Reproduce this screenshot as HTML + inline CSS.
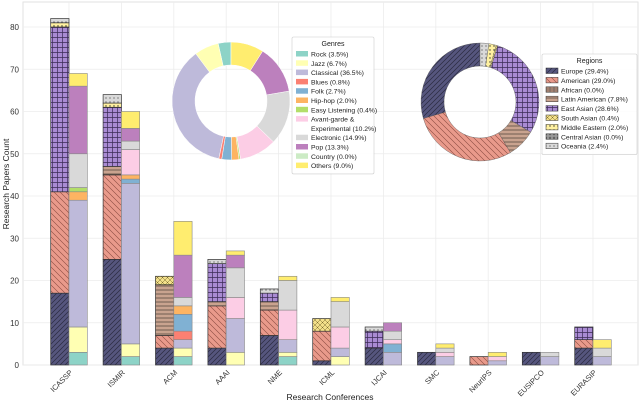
<!DOCTYPE html>
<html><head><meta charset="utf-8"><style>
html,body{margin:0;padding:0;background:#fff;}
svg{display:block;font-family:"Liberation Sans","DejaVu Sans",sans-serif;}
</style></head><body>
<svg id="chart" width="640" height="404" viewBox="0 0 640 404" xmlns="http://www.w3.org/2000/svg">
<defs>
<pattern id="p-europe" width="5" height="5" patternUnits="userSpaceOnUse"><rect width="5" height="5" fill="#56567e"/><path d="M0 5L5 0M-1 1L1 -1M4 6L6 4" stroke="#2a2a40" stroke-width="0.7"/></pattern>
<pattern id="p-american" width="6" height="6" patternUnits="userSpaceOnUse"><rect width="6" height="6" fill="#e99a8b"/><path d="M0 0L6 6M-1 5L1 7M5 -1L7 1" stroke="#8a4a40" stroke-width="0.6"/></pattern>
<pattern id="p-african" width="4" height="4" patternUnits="userSpaceOnUse"><rect width="4" height="4" fill="#a08070"/><path d="M2 0V4" stroke="#555" stroke-width="0.6"/></pattern>
<pattern id="p-latin" width="4" height="4" patternUnits="userSpaceOnUse"><rect width="4" height="4" fill="#c9a38f"/><path d="M0 2H4" stroke="#5a4a40" stroke-width="0.8"/></pattern>
<pattern id="p-eastasian" width="5" height="5" patternUnits="userSpaceOnUse"><rect width="5" height="5" fill="#a98bd3"/><path d="M0 2.5H5M2.5 0V5" stroke="#3a2a55" stroke-width="0.7"/></pattern>
<pattern id="p-southasian" width="5" height="5" patternUnits="userSpaceOnUse"><rect width="5" height="5" fill="#f3e08a"/><path d="M0 0L5 5M5 0L0 5" stroke="#7a6a30" stroke-width="0.5"/></pattern>
<pattern id="p-mideast" width="4" height="4" patternUnits="userSpaceOnUse"><rect width="4" height="4" fill="#fff1a0"/><circle cx="2" cy="2" r="0.7" fill="#333"/></pattern>
<pattern id="p-central" width="4" height="4" patternUnits="userSpaceOnUse"><rect width="4" height="4" fill="#9a9a9a"/><circle cx="2" cy="2" r="1" fill="none" stroke="#333" stroke-width="0.5"/></pattern>
<pattern id="p-oceania" width="4" height="4" patternUnits="userSpaceOnUse"><rect width="4" height="4" fill="#d9d9d9"/><circle cx="2" cy="2" r="0.6" fill="#444"/></pattern>
</defs>
<g id="grid"></g>
<g id="bars"></g>
<g id="axes"></g>
<g id="pies"></g>
<g id="legends"></g>
</svg>
<script>
const conferences = ["ICASSP","ISMIR","ACM","AAAI","NME","ICML","IJCAI","SMC","NeurIPS","EUSIPCO","EURASIP"];
const regionNames = ["Europe","American","African","Latin American","East Asian","South Asian","Middle Eastern","Central Asian","Oceania"];
const regionPct = [29.4,29.0,0.0,7.8,28.6,0.4,2.0,0.0,2.4];
const regionEurope   = [17,25,4,4,7,1,4,3,0,3,4];
const regionAmerican = [24,20,3,10,6,7,0,0,2,0,2];
const regionAfrican  = [0,0,0,0,0,0,0,0,0,0,0];
const regionLatin    = [0,2,12,1,2,0,0,0,0,0,0];
const regionEastAsian= [39,14,0,9,2,0,4,0,0,0,3];
const regionSouthAsian=[0,0,2,0,0,3,0,0,0,0,0];
const regionMidEast  = [1,1,0,0,0,0,0,0,0,0,0];
const regionCentral  = [0,0,0,0,0,0,0,0,0,0,0];
const regionOceania  = [1,2,0,1,1,0,1,0,0,0,0];
const genreNames = ["Rock","Jazz","Classical","Blues","Folk","Hip-hop","Easy Listening","Avant-garde & Experimental","Electronic","Pop","Country","Others"];
const genrePct = [3.5,6.7,36.5,0.8,2.7,2.0,0.4,10.2,14.9,13.3,0.0,9.0];
const genreRock      = [3,2,2,0,2,0,0,0,0,0,0];
const genreJazz      = [6,3,2,3,1,2,0,0,0,0,0];
const genreClassical = [30,38,2,8,3,2,3,2,1,2,2];
const genreBlues     = [0,0,2,0,0,0,0,0,0,0,0];
const genreFolk      = [0,1,4,0,0,0,2,0,0,0,0];
const genreHiphop    = [2,1,2,0,0,0,0,0,0,0,0];
const genreEasy      = [1,0,0,0,0,0,0,0,0,0,0];
const genreAvant     = [0,6,0,5,7,5,1,1,1,0,0];
const genreElectronic= [8,2,2,7,7,6,2,1,0,1,2];
const genrePop       = [16,3,10,3,0,0,2,0,0,0,0];
const genreCountry   = [0,0,0,0,0,0,0,0,0,0,0];
const genreOthers    = [3,4,8,1,1,1,0,1,1,0,2];
const yTicks = [0,10,20,30,40,50,60,70,80];

const regionSeries=[regionEurope,regionAmerican,regionAfrican,regionLatin,regionEastAsian,regionSouthAsian,regionMidEast,regionCentral,regionOceania];
const regionFill=["url(#p-europe)","url(#p-american)","url(#p-african)","url(#p-latin)","url(#p-eastasian)","url(#p-southasian)","url(#p-mideast)","url(#p-central)","url(#p-oceania)"];
const genreSeries=[genreRock,genreJazz,genreClassical,genreBlues,genreFolk,genreHiphop,genreEasy,genreAvant,genreElectronic,genrePop,genreCountry,genreOthers];
const genreFill=["#8dd3c7","#ffffb3","#bebada","#fb8072","#80b1d3","#fdb462","#b3de69","#fccde5","#d9d9d9","#bc80bd","#ccebc5","#ffed6f"];

const NS="http://www.w3.org/2000/svg";
const X0=23,X1=638,Y0=365,PX=4.225;
function yS(v){return Y0-v*PX;}
function xC(i){return 69+i*52.4;}
function mk(tag,attrs,parent){const e=document.createElementNS(NS,tag);for(const k in attrs)e.setAttribute(k,attrs[k]);parent.appendChild(e);return e;}
const grid=document.getElementById('grid'),bars=document.getElementById('bars'),axes=document.getElementById('axes'),pies=document.getElementById('pies'),leg=document.getElementById('legends');

const frame=mk('rect',{x:X0,y:2,width:X1-X0,height:Y0-2,fill:'none',stroke:'#e2e2e2','stroke-width':1},grid);


yTicks.forEach(t=>{
  const l=mk('line',{x1:X0,x2:X1,y1:yS(t),y2:yS(t),stroke:'#ececec','stroke-width':0.8},grid);
  
  
  const tx=mk('text',{x:19,y:yS(t)+3,'text-anchor':'end','font-size':8,fill:'#333'},axes);
  tx.textContent=t;
  
  
});
conferences.forEach((c,i)=>{
  const l=mk('line',{x1:xC(i),x2:xC(i),y1:2,y2:Y0,stroke:'#ececec','stroke-width':0.8},grid);
  
  
  const tx=mk('text',{x:xC(i)+4,y:Y0+8,'text-anchor':'end','font-size':7.5,fill:'#333',transform:`rotate(-45 ${xC(i)+4} ${Y0+8})`},axes);
  tx.textContent=c;
  
  
});
const yt=mk('text',{x:9,y:184,'text-anchor':'middle','font-size':8.5,fill:'#222',transform:'rotate(-90 9 184)'},axes);
yt.textContent='Research Papers Count';


const xt=mk('text',{x:330,y:400,'text-anchor':'middle','font-size':8.5,fill:'#222'},axes);
xt.textContent='Research Conferences';



const W=18.3;
conferences.forEach((c,i)=>{
  let acc=0;
  regionSeries.forEach((s,k)=>{
    const v=s[i]; if(!v)return;
    const r=mk('rect',{x:xC(i)-W,y:yS(acc+v),width:W,height:v*PX,fill:regionFill[k],stroke:'#333','stroke-width':0.7},bars);
    
    
    acc+=v;
  });
  acc=0;
  genreSeries.forEach((s,k)=>{
    const v=s[i]; if(!v)return;
    const r=mk('rect',{x:xC(i),y:yS(acc+v),width:W,height:v*PX,fill:genreFill[k],stroke:'#888','stroke-width':0.6},bars);
    
    
    acc+=v;
  });
});

function donut(cx,cy,R,r,pcts,fills,prefix){
  const tot=pcts.reduce((a,b)=>a+b,0);
  let a=Math.PI/2;
  pcts.forEach((p,k)=>{
    if(!p)return;
    const a2=a+p/tot*2*Math.PI;
    const large=(a2-a)>Math.PI?1:0;
    const pt=(rad,ang)=>[cx+rad*Math.cos(ang),cy-rad*Math.sin(ang)];
    const [x1,y1]=pt(R,a),[x2,y2]=pt(R,a2),[x3,y3]=pt(r,a2),[x4,y4]=pt(r,a);
    const d=`M${x1} ${y1}A${R} ${R} 0 ${large} 0 ${x2} ${y2}L${x3} ${y3}A${r} ${r} 0 ${large} 1 ${x4} ${y4}Z`;
    const e=mk('path',{d:d,fill:fills[k],stroke:prefix==='genre'?'#fff':'#555','stroke-width':prefix==='genre'?0.5:0.4},pies);
    
    
    a=a2;
  });
}
donut(231,101,59,36,genrePct,genreFill,'genre');
donut(480,102,59,36,regionPct,regionFill,'region');

function legend(x,y,w,title,names,pcts,fills,prefix,gap){
  const extra=prefix==='genre'?1:0;
  const h=16+names.length*gap+extra*gap;
  const b=mk('rect',{x:x,y:y,width:w,height:h,fill:'#fff','fill-opacity':0.85,stroke:'#ccc','stroke-width':0.6,rx:1.5},leg);
  
  
  const t=mk('text',{x:x+w/2,y:y+9,'text-anchor':'middle','font-size':7,fill:'#222'},leg);
  t.textContent=title;
  
  
  let yy=y+14;
  names.forEach((n,k)=>{
    const sw=mk('rect',{x:x+4,y:yy,width:12,height:5.5,fill:fills[k],stroke:prefix==='genre'?'none':'#333','stroke-width':0.5},leg);
    
    
    const label=n+' ('+pcts[k].toFixed(1)+'%)';
    if(n.startsWith('Avant')){
      const t1=mk('text',{x:x+19,y:yy+5.5,'font-size':6.8,fill:'#222'},leg);
      t1.textContent='Avant-garde &';
      
      
      const t2=mk('text',{x:x+19,y:yy+5.5+gap,'font-size':6.8,fill:'#222'},leg);
      t2.textContent='Experimental ('+pcts[k].toFixed(1)+'%)';
      
      
      yy+=gap;
    } else {
      const te=mk('text',{x:x+19,y:yy+5.5,'font-size':6.8,fill:'#222'},leg);
      te.textContent=label;
      
      
    }
    yy+=gap;
  });
}
legend(292,37,82,'Genres',genreNames,genrePct,genreFill,'genre',9.3);
legend(542,54,95,'Regions',regionNames,regionPct,regionFill,'region',9.4);
</script>
</body></html>
